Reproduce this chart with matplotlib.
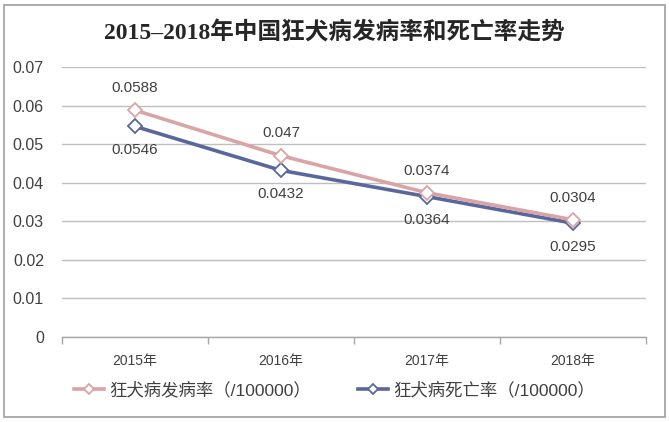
import matplotlib
matplotlib.use("Agg")
import matplotlib.pyplot as plt
from matplotlib.patches import Rectangle

years = ["2015年", "2016年", "2017年", "2018年"]
incidence = [0.0588, 0.047, 0.0374, 0.0304]
mortality = [0.0546, 0.0432, 0.0364, 0.0295]
inc_labels = ["0.0588", "0.047", "0.0374", "0.0304"]
mor_labels = ["0.0546", "0.0432", "0.0364", "0.0295"]
series_names = ["狂犬病发病率（/100000）", "狂犬病死亡率（/100000）"]
title = "2015–2018年中国狂犬病发病率和死亡率走势"
yticks = [0, 0.01, 0.02, 0.03, 0.04, 0.05, 0.06, 0.07]
ytick_labels = ["0", "0.01", "0.02", "0.03", "0.04", "0.05", "0.06", "0.07"]

SANS = ["Liberation Sans", "Noto Sans CJK SC", "DejaVu Sans"]
SERIF = ["Liberation Serif", "Noto Sans CJK SC", "DejaVu Sans"]
plt.rcParams["font.family"] = SANS

W, H = 669, 422
fig = plt.figure(figsize=(W / 100, H / 100), dpi=100)
fig.patch.set_facecolor("white")

# outer border
fig.add_artist(Rectangle((4 / W, 5 / H), 661 / W, 412 / H, transform=fig.transFigure,
                         fill=False, edgecolor="#A6A6A6", linewidth=1.3))

ax = fig.add_axes([62 / W, 1 - 337 / H, (646 - 62) / W, (337 - 67) / H])
ax.set_facecolor("white")

pink = "#D8A4A6"
blue = "#5A679C"
x = list(range(len(years)))

ax.plot(x, incidence, color=pink, lw=2.6, marker="D", ms=7, mfc="white",
        mec=pink, mew=1.3, label=series_names[0], zorder=4)
ax.plot(x, mortality, color=blue, lw=2.6, marker="D", ms=7, mfc="white",
        mec=blue, mew=1.3, label=series_names[1], zorder=3)

for xi, v, t in zip(x, incidence, inc_labels):
    ax.annotate(t, (xi, v), xytext=(0, 16), textcoords="offset points",
                ha="center", va="center", fontsize=11, color="#404040")
for xi, v, t in zip(x, mortality, mor_labels):
    ax.annotate(t, (xi, v), xytext=(0, -17), textcoords="offset points",
                ha="center", va="center", fontsize=11, color="#404040")

ax.set_xlim(-0.5, len(years) - 0.5)
ax.set_ylim(0, 0.07)
ax.set_yticks(yticks)
ax.set_yticklabels(ytick_labels)
ax.set_xticks(x)
ax.set_xticklabels(years, fontsize=10, color="#404040")
ax.set_xticks([i - 0.5 for i in range(len(years) + 1)], minor=True)
ax.tick_params(axis="x", which="major", length=0, pad=12)
ax.tick_params(axis="x", which="minor", length=5, color="#A6A6A6", width=1)
ax.tick_params(axis="y", length=0, pad=13, labelsize=11.5, labelcolor="#404040")
ax.grid(axis="y", color="#BFBFBF", lw=1)
ax.set_axisbelow(True)
for s in ["left", "right", "top"]:
    ax.spines[s].set_visible(False)
ax.spines["bottom"].set_color("#A6A6A6")
ax.spines["bottom"].set_linewidth(1)

fig.text(0.5, 1 - 32 / H, title, ha="center", va="center", fontsize=17,
         fontweight="bold", family=SERIF, color="#262626")

leg = fig.legend(loc="center", bbox_to_anchor=(0.5, 1 - 390 / H), ncol=2,
                 frameon=False, fontsize=12.5, handlelength=1.75, columnspacing=2.7,
                 handletextpad=0.3, markerscale=0.75, labelcolor="#404040")

fig.savefig("out.png", dpi=100, facecolor="white")
